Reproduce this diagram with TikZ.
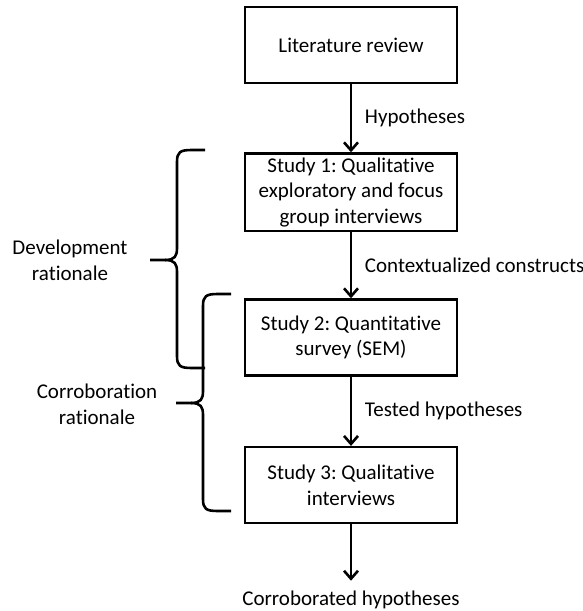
\documentclass[tikz,border=0pt]{standalone}
\usepackage{fontspec}
\setmainfont[Ligatures=NoCommon]{Carlito}
\usetikzlibrary{positioning, arrows.meta}
\tikzset{study node/.style={rectangle, draw, line width=1.3pt, minimum width=106pt, minimum height=38pt, align=center, inner sep=2pt},
	side label/.style={align=center},
	brace line/.style={line width=1.3pt},}

\begin{document}
\frenchspacing
\begin{tikzpicture}[x=0.5pt, y=-0.5pt, -{Straight Barb[length=4pt, width=7pt]}, line width=1.3pt, font=\fontsize{10.5}{12.8}\selectfont]
	\useasboundingbox (0,0) rectangle (583,611);
	% Studies
	\node[study node] (lit) at (351,45) {Literature review};
	\node[study node] [below = 34pt of lit] (s1) {Study 1: Qualitative\\exploratory and focus\\group interviews};
	\node[study node] [below = 33pt of s1] (s2) {Study 2: Quantitative\\survey (SEM)};
	\node[study node] [below = 34.5pt of s2] (s3) {Study 3: Qualitative\\interviews};
	\node [inner sep=4.5pt] (corr) at (351,600) {Corroborated hypotheses};
	% Rationales
	\node[side label] (dev) at (70,260) {Development\\rationale};
	\node[side label] (cor) at (97,404) {Corroboration\\rationale};
	% Paths
	\path[draw]
	(lit) edge node [right, xshift=3pt] {Hypotheses} (s1)
	(s1) edge node [right, xshift=3pt] {Contextualized constructs} (s2)
	(s2) edge node [right, xshift=3pt] {Tested hypotheses} (s3)
	(s3) edge (corr);
	% Braces
	\draw[brace line, -] (205,150) -- (192,150) .. controls (180,150) and (177,152) .. (177,162) -- (177,248) .. controls (177,256) and (175,260) .. (165,260) -- (150,260);
	\draw[brace line, -] (165,260) .. controls (175,260) and (177,264) .. (177,272) -- (177,356) .. controls (177,366) and (180,368) .. (192,368) -- (205,368);
	\draw[brace line, -] (231,294) -- (218,294) .. controls (206,294) and (203,296) .. (203,306) -- (203,391) .. controls (203,399) and (201,403) .. (191,403) -- (176,403);
	\draw[brace line, -] (191,403) .. controls (201,403) and (203,407) .. (203,415) -- (203,499) .. controls (203,509) and (206,511) .. (218,511) -- (231,511);
\end{tikzpicture}
\end{document}
